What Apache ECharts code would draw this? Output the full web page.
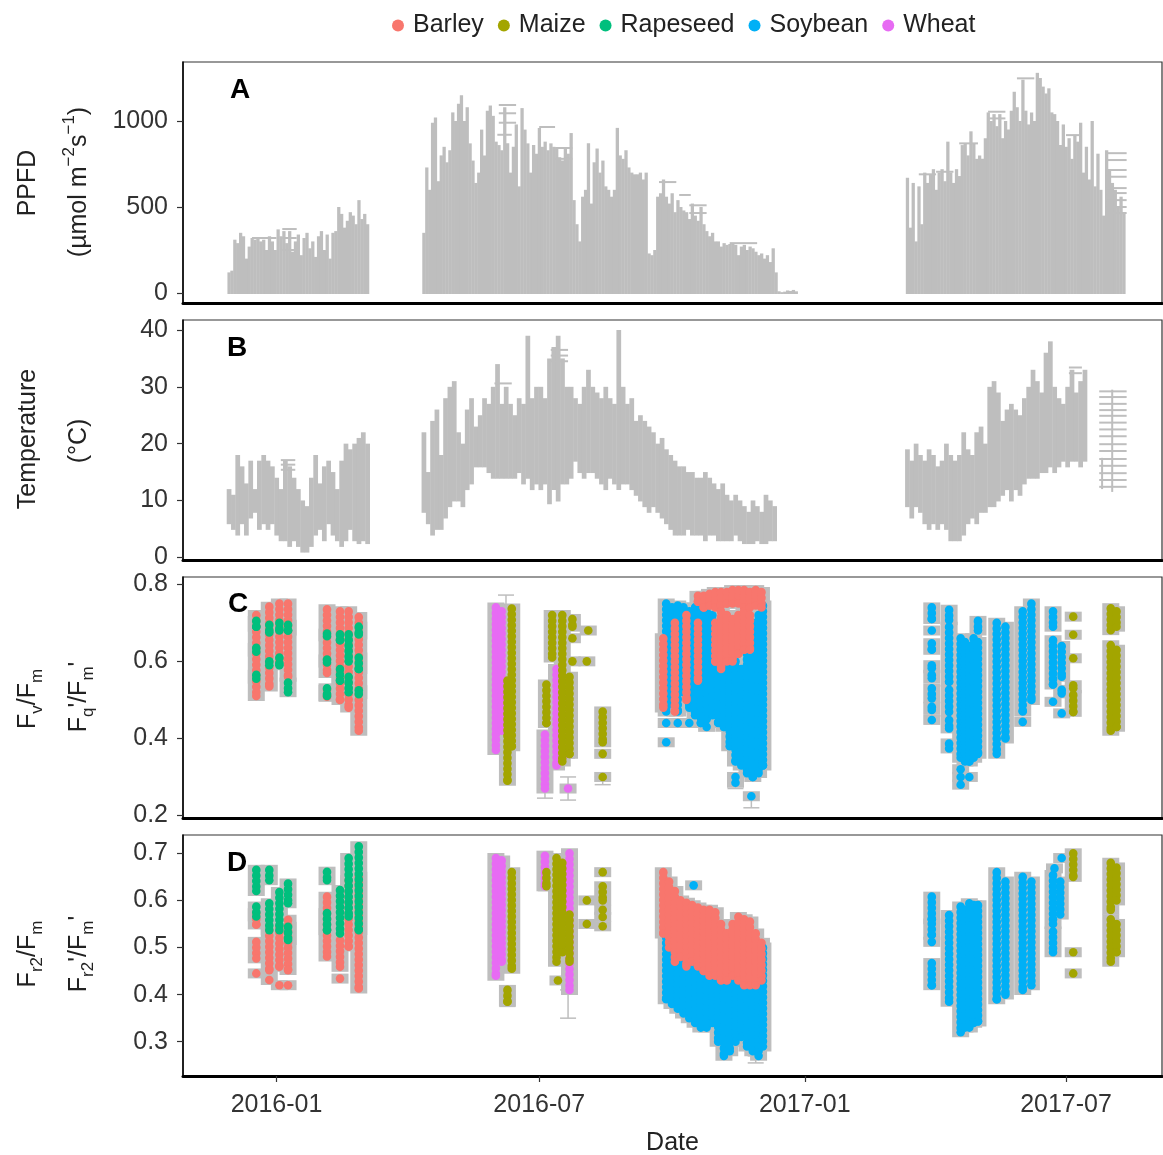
<!DOCTYPE html>
<html>
<head>
<meta charset="utf-8">
<script src="https://cdn.jsdelivr.net/npm/echarts@6/dist/echarts.min.js"></script>
<style>
html,body{margin:0;padding:0;background:#fff;}
#chart{width:1163px;height:1155px;}
</style>
</head>
<body>
<div id="chart"></div>
<script>
// ======================= DATA =======================
const crops = ['Barley', 'Maize', 'Rapeseed', 'Soybean', 'Wheat'];
const dateTicks = ['2016-01-01', '2016-07-01', '2017-01-01', '2017-07-01'];
const ppfdTicks = [0, 500, 1000];
const tempTicks = [0, 10, 20, 30, 40];
const fvTicks = [0.2, 0.4, 0.6, 0.8];
const frTicks = [0.3, 0.4, 0.5, 0.6, 0.7];

// ---- Panel A: PPFD (values every 2 days from block start) ----
const ppfdStarts = ['2015-11-29', '2016-04-12', '2017-03-13'];
const ppfdStepDays = 2;
const ppfdBlock1 = [120,130,310,290,350,330,200,270,320,310,320,300,310,250,330,300,250,370,330,360,
  290,360,240,300,340,220,320,350,260,300,210,330,360,250,340,200,350,360,500,460,
  380,420,470,450,400,540,430,460,400];
const ppfdBlock2 = [350,730,600,990,1020,650,800,850,760,830,
  1050,1000,1100,1150,1000,1080,870,770,640,700,
  950,800,1060,1090,1030,880,860,830,1080,870,
  700,850,980,620,1075,950,870,700,860,810,
  960,850,880,830,870,850,840,790,770,840,
  810,930,540,400,300,560,600,870,520,760,
  840,700,770,620,600,560,600,960,800,780,
  830,730,700,690,690,700,660,700,230,220,
  250,560,580,660,560,520,580,470,540,500,
  480,470,430,520,450,420,500,400,360,330,
  350,300,300,270,290,280,285,290,280,220,
  270,280,250,270,260,240,220,230,200,220,
  180,260,120,10,5,8,15,12,18,10];
const ppfdBlock3 = [670,380,640,300,620,400,700,640,690,720,
  600,700,720,650,880,700,640,720,680,860,
  870,800,940,870,780,800,780,900,1050,1000,
  1040,970,1040,900,1000,950,1060,1170,1080,1000,
  1240,1060,980,1050,1000,1280,1250,1200,1160,1190,
  1050,1040,1000,860,980,850,900,780,920,880,
  990,700,850,660,1000,620,810,600,450,830,
  720,640,600,500,560,470];
// horizontal error-bar segments [from, to, value]
const ppfdCaps = [
  ['2015-12-15','2016-01-01',320], ['2016-01-05','2016-01-15',372], ['2016-01-05','2016-01-15',320],
  ['2016-01-05','2016-01-15',250], ['2016-06-03','2016-06-15',1093], ['2016-06-03','2016-06-15',1045],
  ['2016-06-03','2016-06-15',990], ['2016-06-02','2016-06-12',920], ['2016-07-01','2016-07-12',965],
  ['2016-07-12','2016-07-24',843], ['2016-07-12','2016-07-24',780], ['2016-09-22','2016-10-04',645],
  ['2016-10-06','2016-10-14',570], ['2016-10-13','2016-10-25',510], ['2016-10-13','2016-10-25',465],
  ['2016-11-10','2016-11-29',290], ['2017-05-28','2017-06-09',1248], ['2017-05-08','2017-05-20',1054],
  ['2017-05-08','2017-05-20',1015], ['2017-07-01','2017-07-12',918], ['2017-04-18','2017-05-01',870],
  ['2017-07-29','2017-08-12',813], ['2017-07-29','2017-08-12',773], ['2017-07-29','2017-08-12',715],
  ['2017-07-29','2017-08-12',676], ['2017-07-29','2017-08-12',610], ['2017-07-29','2017-08-12',581],
  ['2017-07-29','2017-08-12',540], ['2017-07-29','2017-08-12',500], ['2017-07-29','2017-08-12',465],
  ['2017-03-21','2017-04-02',690], ['2017-04-02','2017-04-14',705]
];

// ---- Panel B: temperature [min, max] every 3 days from block start ----
const tempStarts = ['2015-11-29', '2016-04-12', '2017-03-13'];
const tempStepDays = 3;
const tempBlock1 = [[6,12],[5,11],[4,18],[6,16],[4,13],[7,17],[8,12],[5,17],[6,18],[5,17],
  [6,16],[4,14],[3,12],[3,17],[2,16],[3,14],[2,12],[1,10],[1,9],[2,14],
  [4,18],[5,13],[3,16],[6,17],[4,15],[3,12],[2,17],[3,20],[5,19],[3,20],
  [2.5,21],[3,22],[2.5,20]];
const tempBlock2 = [[8,22],[6,15],[4,24],[5,26],[5,18],[7,28],[9,30],[10,31],[10,22],[9,20],
  [12,26],[13,28],[16,23],[16,25],[16,28],[15,27],[14,30],[14,34],[14,27],[14,30],
  [14,27],[14,25],[15,28],[13,27],[14,39],[12,28],[13,30],[12,30],[13,28],[9.5,35],
  [12,37],[10,39],[13,35],[13,30],[14,30],[17,28],[15,27],[14,30],[15,33],[15,30],
  [14,29],[13,28],[12,30],[14,28],[13,27],[12,40],[13,30],[13,27],[12,28],[11,24],
  [10,25],[9,24],[8,23],[9,22],[8,20],[7,21],[6,19],[5,18],[4,17],[4,16],
  [4,16],[5,15],[4,15],[4,14],[4,14],[3,15],[4,14],[4,13],[3,12],[3,13],
  [3,11],[3,10],[4,11],[3,10],[2.5,9],[2.5,8],[2.5,10],[3,9],[2.5,8],[2.5,11],
  [3,10],[3,9]];
const tempBlock3 = [[9,19],[7,17],[9,20],[8,18],[6,17],[5,19],[6,18],[5,16],[6,17],[5,20],
  [3,18],[3,17],[3,18],[4,22],[6,19],[7,18],[6,22],[8,23],[8,20],[9,30],
  [9,31],[10,29],[11,24],[12,26],[10,27],[12,26],[11,25],[13,28],[14,30],[14,33],
  [14,31],[15,29],[15,36],[16,38],[15,30],[16,28],[17,27],[16,30],[17,33],[17,29],
  [16,31],[17,33]];
const tempLines = [['2017-08-02',11.5,29.5], ['2017-07-26',12,17.5]];
const tempCaps = [
  ['2016-01-04','2016-01-14',17.1], ['2016-01-04','2016-01-14',16.3], ['2016-01-04','2016-01-14',15.4],
  ['2016-05-31','2016-06-12',30.6], ['2016-07-09','2016-07-21',36.5], ['2016-07-09','2016-07-21',35.5],
  ['2016-07-09','2016-07-21',34.5], ['2017-07-03','2017-07-12',33.4], ['2017-07-03','2017-07-12',32.4],
  ['2017-07-24','2017-08-12',29.2], ['2017-07-24','2017-08-12',28.2], ['2017-07-24','2017-08-12',27.0],
  ['2017-07-24','2017-08-12',25.9], ['2017-07-24','2017-08-12',24.9], ['2017-07-24','2017-08-12',23.7],
  ['2017-07-24','2017-08-12',22.5], ['2017-07-24','2017-08-12',21.3], ['2017-07-24','2017-08-12',19.9],
  ['2017-07-24','2017-08-12',18.7], ['2017-07-24','2017-08-12',17.3], ['2017-07-24','2017-08-12',16.1],
  ['2017-07-24','2017-08-12',14.8], ['2017-07-24','2017-08-12',13.6], ['2017-07-24','2017-08-12',12.4]
];

// ---- Panel C: Fv/Fm, Fq'/Fm'  [date, low, high] ----
const fvBarley = [
  ['2015-12-18',0.51,0.72], ['2015-12-27',0.535,0.742], ['2016-01-03',0.60,0.75], ['2016-01-09',0.56,0.75],
  ['2016-02-05',0.57,0.735], ['2016-02-05',0.508,0.526], ['2016-02-14',0.50,0.73], ['2016-02-20',0.48,0.73],
  ['2016-02-27',0.42,0.715],
  ['2016-09-25',0.48,0.66], ['2016-10-03',0.47,0.70], ['2016-10-11',0.50,0.72], ['2016-10-19',0.55,0.70],
  ['2016-10-19',0.755,0.77], ['2016-10-23',0.74,0.77], ['2016-10-27',0.745,0.775],
  ['2016-10-31',0.74,0.78], ['2016-10-31',0.60,0.70], ['2016-11-04',0.745,0.78], ['2016-11-04',0.58,0.73],
  ['2016-11-08',0.75,0.78], ['2016-11-08',0.60,0.72], ['2016-11-12',0.75,0.785], ['2016-11-12',0.60,0.71],
  ['2016-11-16',0.75,0.785], ['2016-11-16',0.62,0.72], ['2016-11-20',0.74,0.785], ['2016-11-20',0.63,0.73],
  ['2016-11-24',0.74,0.78], ['2016-11-24',0.63,0.72], ['2016-11-28',0.745,0.785], ['2016-12-02',0.74,0.78]
];
const fvMaize = [
  ['2016-06-09',0.29,0.55], ['2016-06-12',0.38,0.737], ['2016-07-06',0.44,0.54], ['2016-07-10',0.61,0.72],
  ['2016-07-17',0.34,0.72], ['2016-07-22',0.36,0.56], ['2016-07-24',0.69,0.71], ['2016-07-24',0.66,0.66],
  ['2016-07-24',0.60,0.60], ['2016-08-04',0.68,0.68], ['2016-08-03',0.60,0.60], ['2016-08-14',0.39,0.47],
  ['2016-08-14',0.36,0.36], ['2016-08-14',0.30,0.30],
  ['2017-07-06',0.716,0.716], ['2017-07-06',0.669,0.669], ['2017-07-06',0.608,0.608], ['2017-07-06',0.53,0.538],
  ['2017-07-06',0.469,0.513], ['2017-08-01',0.681,0.738], ['2017-08-01',0.42,0.642],
  ['2017-08-05',0.69,0.73], ['2017-08-05',0.43,0.63]
];
const fvRapeseed = [
  ['2015-12-18',0.69,0.705], ['2015-12-18',0.625,0.635], ['2015-12-18',0.555,0.565],
  ['2015-12-27',0.675,0.695], ['2015-12-27',0.59,0.60], ['2016-01-03',0.68,0.70], ['2016-01-03',0.59,0.61],
  ['2016-01-09',0.68,0.695], ['2016-01-09',0.52,0.545], ['2016-02-05',0.665,0.672], ['2016-02-05',0.597,0.605],
  ['2016-02-05',0.51,0.53], ['2016-02-14',0.655,0.67], ['2016-02-14',0.55,0.58], ['2016-02-20',0.60,0.67],
  ['2016-02-20',0.52,0.56], ['2016-02-27',0.67,0.69], ['2016-02-27',0.58,0.61], ['2016-02-27',0.515,0.525]
];
const fvSoybean = [
  ['2016-09-27',0.47,0.75], ['2016-09-27',0.44,0.44], ['2016-09-27',0.39,0.39], ['2016-10-01',0.49,0.74],
  ['2016-10-05',0.47,0.745], ['2016-10-05',0.44,0.44], ['2016-10-09',0.52,0.74], ['2016-10-13',0.48,0.73],
  ['2016-10-13',0.44,0.44], ['2016-10-17',0.46,0.74], ['2016-10-21',0.44,0.74], ['2016-10-25',0.45,0.73],
  ['2016-10-25',0.43,0.43], ['2016-10-29',0.46,0.72], ['2016-11-02',0.44,0.70], ['2016-11-06',0.43,0.63],
  ['2016-11-10',0.38,0.62], ['2016-11-14',0.34,0.60], ['2016-11-14',0.30,0.30], ['2016-11-14',0.285,0.285],
  ['2016-11-18',0.33,0.58], ['2016-11-22',0.31,0.62], ['2016-11-26',0.30,0.70], ['2016-11-25',0.25,0.25],
  ['2016-11-30',0.31,0.72], ['2016-12-03',0.33,0.745],
  ['2017-03-30',0.71,0.74], ['2017-03-30',0.68,0.68], ['2017-03-30',0.63,0.647], ['2017-03-30',0.582,0.59],
  ['2017-03-30',0.556,0.565], ['2017-03-30',0.504,0.53], ['2017-03-30',0.474,0.482], ['2017-03-30',0.448,0.448],
  ['2017-04-11',0.707,0.734], ['2017-04-11',0.547,0.69], ['2017-04-11',0.469,0.526], ['2017-04-11',0.426,0.448],
  ['2017-04-11',0.374,0.387], ['2017-04-19',0.35,0.66], ['2017-04-19',0.32,0.32], ['2017-04-19',0.30,0.30],
  ['2017-04-19',0.28,0.28], ['2017-04-22',0.34,0.65], ['2017-04-25',0.34,0.64], ['2017-04-25',0.30,0.30],
  ['2017-04-28',0.35,0.66], ['2017-05-01',0.68,0.705],
  ['2017-05-01',0.36,0.65], ['2017-05-14',0.36,0.70], ['2017-05-20',0.40,0.69], ['2017-06-01',0.47,0.73],
  ['2017-06-01',0.443,0.443], ['2017-06-07',0.50,0.75], ['2017-06-22',0.69,0.73], ['2017-06-22',0.54,0.655],
  ['2017-06-22',0.495,0.495], ['2017-06-28',0.517,0.526], ['2017-06-28',0.56,0.64], ['2017-06-28',0.465,0.465]
];
const fvWheat = [
  ['2016-06-01',0.37,0.74], ['2016-06-05',0.42,0.73], ['2016-07-05',0.27,0.41], ['2016-07-13',0.33,0.58],
  ['2016-07-20',0.36,0.52], ['2016-07-21',0.27,0.27]
];
const fvWhiskers = [
  ['2016-06-08',0.74,0.772], ['2016-07-21',0.24,0.30], ['2016-07-05',0.245,0.27], ['2016-08-14',0.28,0.30],
  ['2016-11-25',0.22,0.25], ['2016-11-14',0.27,0.30]
];

// ---- Panel D: Fr2/Fm, Fr2'/Fm'  [date, low, high] ----
const frBarley = [
  ['2015-12-18',0.549,0.573], ['2015-12-18',0.477,0.512], ['2015-12-18',0.445,0.445],
  ['2015-12-27',0.452,0.537], ['2015-12-27',0.431,0.431], ['2016-01-03',0.459,0.544], ['2016-01-03',0.42,0.42],
  ['2016-01-09',0.452,0.559], ['2016-01-09',0.42,0.42], ['2016-02-05',0.481,0.608], ['2016-02-14',0.459,0.516],
  ['2016-02-14',0.434,0.434], ['2016-02-20',0.502,0.643], ['2016-02-27',0.413,0.65],
  ['2016-09-25',0.53,0.66], ['2016-09-29',0.50,0.64], ['2016-10-03',0.47,0.62], ['2016-10-07',0.48,0.60],
  ['2016-10-11',0.46,0.595], ['2016-10-15',0.47,0.59], ['2016-10-19',0.46,0.585], ['2016-10-23',0.45,0.58],
  ['2016-10-27',0.44,0.58], ['2016-10-31',0.44,0.575], ['2016-11-04',0.43,0.55], ['2016-11-08',0.43,0.53],
  ['2016-11-12',0.44,0.55], ['2016-11-16',0.43,0.565], ['2016-11-20',0.42,0.56], ['2016-11-24',0.42,0.555],
  ['2016-11-28',0.42,0.53], ['2016-12-02',0.43,0.51]
];
const frMaize = [
  ['2016-06-09',0.385,0.41], ['2016-06-12',0.455,0.66], ['2016-07-06',0.63,0.66], ['2016-07-13',0.47,0.69],
  ['2016-07-17',0.49,0.68], ['2016-07-22',0.47,0.57], ['2016-07-14',0.43,0.43], ['2016-08-03',0.60,0.60],
  ['2016-08-03',0.55,0.55], ['2016-08-14',0.60,0.63], ['2016-08-14',0.66,0.66], ['2016-08-14',0.58,0.58],
  ['2016-08-14',0.565,0.565], ['2016-08-14',0.545,0.545],
  ['2017-07-06',0.65,0.70], ['2017-07-06',0.49,0.49], ['2017-07-06',0.445,0.445], ['2017-08-01',0.58,0.68],
  ['2017-08-01',0.47,0.56], ['2017-08-05',0.60,0.67], ['2017-08-05',0.49,0.55]
];
const frRapeseed = [
  ['2015-12-18',0.62,0.665], ['2015-12-18',0.566,0.587], ['2015-12-27',0.643,0.665], ['2015-12-27',0.537,0.594],
  ['2016-01-03',0.537,0.618], ['2016-01-09',0.594,0.636], ['2016-01-09',0.516,0.544], ['2016-02-05',0.643,0.661],
  ['2016-02-05',0.537,0.573], ['2016-02-14',0.53,0.622], ['2016-02-20',0.566,0.69], ['2016-02-27',0.537,0.715]
];
const frSoybean = [
  ['2016-09-27',0.39,0.58], ['2016-10-01',0.38,0.56], ['2016-10-05',0.37,0.54], ['2016-10-09',0.36,0.53],
  ['2016-10-13',0.35,0.52], ['2016-10-17',0.34,0.52], ['2016-10-16',0.632,0.632], ['2016-10-21',0.33,0.50],
  ['2016-10-25',0.33,0.49], ['2016-10-29',0.34,0.47], ['2016-11-02',0.30,0.46], ['2016-11-06',0.27,0.45],
  ['2016-11-10',0.28,0.45], ['2016-11-14',0.30,0.45], ['2016-11-18',0.31,0.46], ['2016-11-22',0.29,0.45],
  ['2016-11-26',0.28,0.46], ['2016-11-30',0.27,0.48], ['2016-12-03',0.29,0.50],
  ['2017-03-30',0.56,0.608], ['2017-03-30',0.527,0.551], ['2017-03-30',0.512,0.512], ['2017-03-30',0.42,0.467],
  ['2017-04-11',0.385,0.569], ['2017-04-19',0.32,0.587], ['2017-04-22',0.33,0.58], ['2017-04-25',0.33,0.594],
  ['2017-04-28',0.34,0.59], ['2017-05-01',0.343,0.59],
  ['2017-05-14',0.39,0.66], ['2017-05-20',0.40,0.64], ['2017-06-01',0.41,0.65], ['2017-06-07',0.42,0.64],
  ['2017-06-22',0.55,0.654], ['2017-06-22',0.49,0.534], ['2017-06-23',0.668,0.668], ['2017-06-28',0.69,0.69],
  ['2017-06-27',0.57,0.64]
];
const frWheat = [
  ['2016-06-01',0.44,0.69], ['2016-06-05',0.47,0.685], ['2016-07-05',0.63,0.695], ['2016-07-22',0.41,0.70]
];
const frWhiskers = [
  ['2016-07-21',0.35,0.41], ['2016-06-09',0.375,0.39], ['2016-11-28',0.255,0.27]
];

// ======================= STYLE / BUILD =======================
const FONT = "'Liberation Sans', Arial, Helvetica, sans-serif";
const GRAY = '#BEBEBE';
const TXT = '#222';
const cropColors = {Barley:'#F8766D', Maize:'#A3A500', Rapeseed:'#00BF7D', Soybean:'#00B0F6', Wheat:'#E76BF3'};
const drawOrder = ['Soybean', 'Barley', 'Wheat', 'Maize', 'Rapeseed'];
const DAY = 86400000;
function tm(s) { const p = s.split('-'); return new Date(+p[0], +p[1] - 1, +p[2]).getTime(); }

const X0 = tm('2016-01-01');
const X_MIN = X0 - 64.78 * DAY;
const X_MAX = X0 + 613.5 * DAY;

function fromBlocks(starts, blocks, step) {
  const out = [];
  blocks.forEach((arr, b) => {
    const t0 = tm(starts[b]);
    arr.forEach((v, i) => {
      const t = t0 + i * step * DAY;
      if (Array.isArray(v)) out.push([t, v[0], v[1]]); else out.push([t, 0, v]);
    });
  });
  return out;
}
const segs = arr => arr.map(r => [tm(r[0]), r[1], r[2]]);
const caps = arr => arr.map(r => [tm(r[0]), tm(r[1]), r[2]]);

function rangeRender(stepDays) {
  return (params, api) => {
    const x = api.value(0);
    const a = api.coord([x, api.value(1)]);
    const b = api.coord([x, api.value(2)]);
    const w = api.size([stepDays * DAY, 0])[0];
    return {type: 'rect', shape: {x: a[0] - w / 2, y: Math.min(a[1], b[1]), width: w + 0.4, height: Math.abs(a[1] - b[1]) + 1},
      style: {fill: GRAY}};
  };
}
function lineRender(params, api) {
  const x = api.value(0);
  const a = api.coord([x, api.value(1)]);
  const b = api.coord([x, api.value(2)]);
  return {type: 'rect', shape: {x: a[0] - 1, y: Math.min(a[1], b[1]), width: 2, height: Math.abs(a[1] - b[1])}, style: {fill: GRAY}};
}
function capRender(params, api) {
  const a = api.coord([api.value(0), api.value(2)]);
  const b = api.coord([api.value(1), api.value(2)]);
  return {type: 'rect', shape: {x: a[0], y: a[1] - 1, width: b[0] - a[0], height: 2}, style: {fill: GRAY}};
}
function haloRender(params, api) {
  const x = api.value(0);
  const a = api.coord([x, api.value(1)]);
  const b = api.coord([x, api.value(2)]);
  const y1 = Math.min(a[1], b[1]), y2 = Math.max(a[1], b[1]);
  return {type: 'rect', shape: {x: a[0] - 8.5, y: y1 - 5, width: 17, height: y2 - y1 + 10}, style: {fill: GRAY}};
}
function whiskerRender(params, api) {
  const x = api.value(0);
  const a = api.coord([x, api.value(1)]);
  const b = api.coord([x, api.value(2)]);
  const st = {stroke: GRAY, lineWidth: 1.5};
  return {type: 'group', children: [
    {type: 'line', shape: {x1: a[0], y1: a[1], x2: b[0], y2: b[1]}, style: st},
    {type: 'line', shape: {x1: a[0] - 8, y1: a[1], x2: a[0] + 8, y2: a[1]}, style: st},
    {type: 'line', shape: {x1: b[0] - 8, y1: b[1], x2: b[0] + 8, y2: b[1]}, style: st}
  ]};
}
function dotRender(color) {
  return (params, api) => {
    const x = api.value(0);
    const a = api.coord([x, api.value(1)]);
    const b = api.coord([x, api.value(2)]);
    const y1 = Math.min(a[1], b[1]), y2 = Math.max(a[1], b[1]);
    if (y2 - y1 < 2) {
      return {type: 'circle', shape: {cx: a[0], cy: (y1 + y2) / 2, r: 4.3}, style: {fill: color}};
    }
    // a run of overlapping points along the measured range
    return {type: 'group', children: [
      {type: 'rect', shape: {x: a[0] - 3.2, y: y1, width: 6.4, height: y2 - y1}, style: {fill: color}},
      {type: 'line', shape: {x1: a[0], y1: y1, x2: a[0], y2: y2},
        style: {stroke: color, fill: null, lineWidth: 8.6, lineCap: 'round', lineDash: [0.5, 5]}},
      {type: 'circle', shape: {cx: a[0], cy: y2, r: 4.3}, style: {fill: color}}
    ]};
  };
}

const series = [];
function cs(gi, data, renderItem, extra) {
  series.push(Object.assign({type: 'custom', xAxisIndex: gi, yAxisIndex: gi, data: data, renderItem: renderItem,
    silent: true, clip: true, animation: false, encode: {x: 0, y: [1, 2]}}, extra || {}));
}
// Panel A
cs(0, fromBlocks(ppfdStarts, [ppfdBlock1, ppfdBlock2, ppfdBlock3], ppfdStepDays), rangeRender(ppfdStepDays));
cs(0, caps(ppfdCaps), capRender, {encode: {x: [0, 1], y: 2}});
// Panel B
cs(1, fromBlocks(tempStarts, [tempBlock1, tempBlock2, tempBlock3], tempStepDays), rangeRender(tempStepDays));
cs(1, segs(tempLines), lineRender);
cs(1, caps(tempCaps), capRender, {encode: {x: [0, 1], y: 2}});
// Panels C, D
const panelSets = [
  {gi: 2, d: {Barley: fvBarley, Maize: fvMaize, Rapeseed: fvRapeseed, Soybean: fvSoybean, Wheat: fvWheat}, w: fvWhiskers},
  {gi: 3, d: {Barley: frBarley, Maize: frMaize, Rapeseed: frRapeseed, Soybean: frSoybean, Wheat: frWheat}, w: frWhiskers}
];
panelSets.forEach(p => {
  let all = [];
  crops.forEach(c => { all = all.concat(segs(p.d[c])); });
  cs(p.gi, segs(p.w), whiskerRender, {z: 2});
  cs(p.gi, all, haloRender, {z: 2});
  drawOrder.forEach(c => {
    cs(p.gi, segs(p.d[c]), dotRender(cropColors[c]), {name: c, z: 3, itemStyle: {color: cropColors[c]}});
  });
});

const gridDefs = [{top: 62, height: 241}, {top: 320, height: 240}, {top: 577, height: 241}, {top: 835, height: 241}];
const yDefs = [
  {min: -58, max: 1343, ticks: ppfdTicks, fmt: v => String(v)},
  {min: -0.48, max: 41.76, ticks: tempTicks, fmt: v => String(v)},
  {min: 0.1935, max: 0.8189, ticks: fvTicks, fmt: v => v.toFixed(1)},
  {min: 0.2272, max: 0.7389, ticks: frTicks, fmt: v => v.toFixed(1)}
];
const tickTimes = dateTicks.map(tm);
function fmtDate(v) { const d = new Date(v); return d.getFullYear() + '-' + String(d.getMonth() + 1).padStart(2, '0'); }

const option = {
  animation: false,
  backgroundColor: '#fff',
  textStyle: {fontFamily: FONT},
  legend: {
    data: crops, left: 387, top: 8, icon: 'circle', itemWidth: 12, itemHeight: 12, itemGap: 14,
    textStyle: {fontSize: 25, fontFamily: FONT, color: TXT, padding: [0, 0, 0, 4]}, selectedMode: false
  },
  grid: gridDefs.map(g => ({left: 183, right: 1, top: g.top, height: g.height, show: true,
    borderColor: '#333', borderWidth: 1.2, containLabel: false, outerBoundsMode: 'none'})),
  xAxis: gridDefs.map((g, i) => ({
    type: 'value', gridIndex: i, min: X_MIN, max: X_MAX, scale: true,
    axisLine: {show: true, onZero: false, lineStyle: {color: '#000', width: 3}},
    axisTick: {show: i === 3, length: 6, customValues: tickTimes, lineStyle: {color: '#333', width: 1.2}},
    axisLabel: {show: i === 3, customValues: tickTimes, fontSize: 25, fontFamily: FONT, color: '#333', margin: 17,
      formatter: fmtDate},
    splitLine: {show: false}, minorTick: {show: false},
    name: i === 3 ? 'Date' : '', nameLocation: 'middle', nameGap: 55,
    nameTextStyle: {fontSize: 25, fontFamily: FONT, color: TXT}
  })),
  yAxis: yDefs.map((y, i) => ({
    type: 'value', gridIndex: i, min: y.min, max: y.max,
    axisLine: {show: true, onZero: false, lineStyle: {color: '#000', width: 1.5}},
    axisTick: {show: true, length: 6, customValues: y.ticks, lineStyle: {color: '#333', width: 1.2}},
    axisLabel: {customValues: y.ticks, fontSize: 25, fontFamily: FONT, color: '#333', margin: 15, formatter: y.fmt},
    splitLine: {show: false}
  })),
  series: series,
  graphic: []
};

// axis titles and panel letters
const rich = {
  n: {fontSize: 25, fontFamily: FONT, fill: TXT, lineHeight: 36},
  sub: {fontSize: 17, fontFamily: FONT, fill: TXT, verticalAlign: 'bottom'},
  sup: {fontSize: 17, fontFamily: FONT, fill: TXT, verticalAlign: 'top'}
};
function vtext(x, y, text) {
  return {type: 'text', x: x, y: y, rotation: Math.PI / 2, silent: true,
    style: {text: text, rich: rich, font: '25px ' + FONT, fill: TXT, textAlign: 'center', textVerticalAlign: 'middle', verticalAlign: 'middle'}};
}
function letter(x, y, t) {
  return {type: 'text', x: x, y: y, silent: true,
    style: {text: t, font: 'bold 28px ' + FONT, fill: '#000', textAlign: 'center', textVerticalAlign: 'middle', verticalAlign: 'middle'}};
}
option.graphic = [
  vtext(28, 183, '{n|PPFD}'),
  vtext(79, 182, '{n|(µmol m}{sup|−2}{n|s}{sup|−1}{n|)}'),
  vtext(28, 439, '{n|Temperature}'),
  vtext(79, 441, '{n|(°C)}'),
  vtext(28, 699, '{n|F}{sub|v}{n|/F}{sub|m}'),
  vtext(79, 697, "{n|F}{sub|q}{n|'/F}{sub|m}{n|'}"),
  vtext(28, 954, '{n|F}{sub|r2}{n|/F}{sub|m}'),
  vtext(79, 954, "{n|F}{sub|r2}{n|'/F}{sub|m}{n|'}"),
  letter(240, 90, 'A'), letter(237, 348, 'B'), letter(238, 604, 'C'), letter(237, 863, 'D')
];

const chart = echarts.init(document.getElementById('chart'), null, {renderer: 'canvas'});
chart.setOption(option);
</script>
</body>
</html>
